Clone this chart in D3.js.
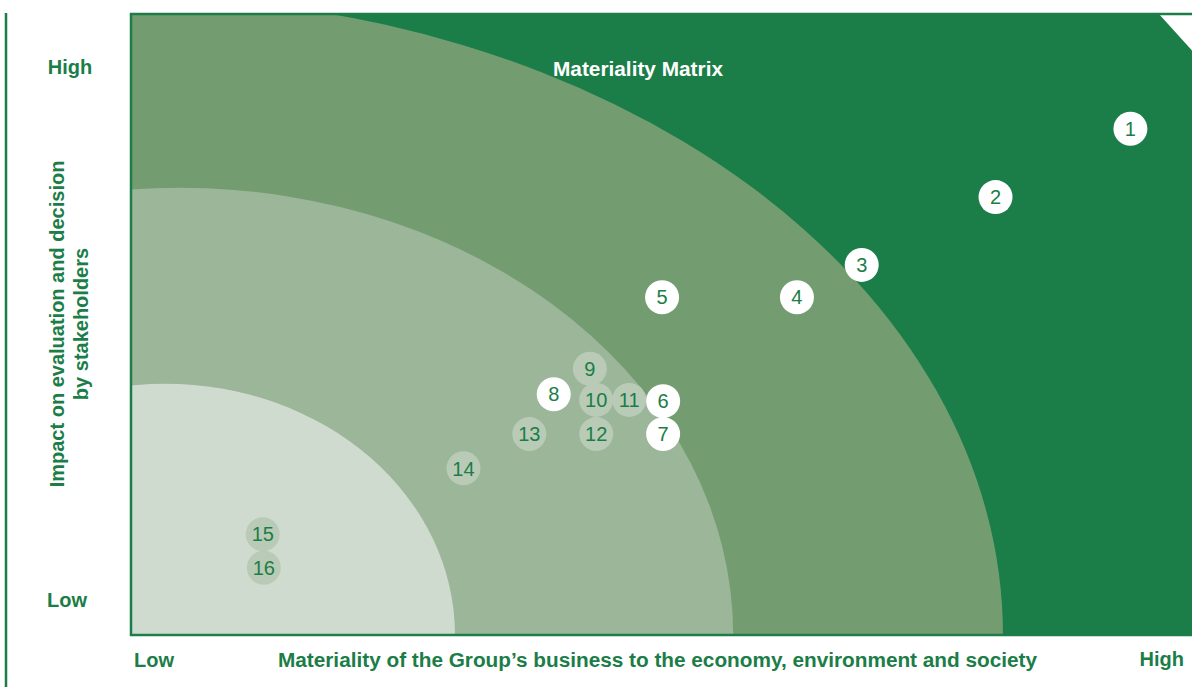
<!DOCTYPE html>
<html>
<head>
<meta charset="utf-8">
<script src="https://cdn.jsdelivr.net/npm/d3@7"></script>
<style>
  html, body { margin: 0; padding: 0; background: #ffffff; }
  svg { display: block; font-family: "Liberation Sans", Arial, sans-serif; }
</style>
</head>
<body>
<svg id="chart"></svg>
<script>
// ── data ──────────────────────────────────────────────────────────────────
const topicIds = [1, 2, 3, 4, 5, 6, 7, 8, 9, 10, 11, 12, 13, 14, 15, 16];
const materiality = [94.2, 81.5, 68.9, 62.8, 50.1, 50.2, 50.2, 39.9, 43.3, 43.9, 47.0, 43.9, 37.6, 31.4, 12.5, 12.6];
const stakeholderImpact = [81.4, 70.4, 59.5, 54.3, 54.3, 37.6, 32.3, 38.7, 42.8, 37.8, 37.8, 32.3, 32.3, 26.8, 16.2, 10.8];
const highPriority = [true, true, true, true, true, true, true, true, false, false, false, false, false, false, false, false];

// zone boundaries (quarter ellipses from the low/low corner), in axis units
const zoneNames = ["medium-high", "medium", "low"];
const zoneCenterX = [0, 4.7, 3.3];
const zoneRadiusX = [82.2, 52.1, 27.3];
const zoneRadiusY = [102.6, 71.9, 40.4];

const xTickLabels = ["Low", "High"];
const yTickLabels = ["Low", "High"];
const chartTitle = "Materiality Matrix";
const xTitle = "Materiality of the Group\u2019s business to the economy, environment and society";
const yTitle = ["Impact on evaluation and decision", "by stakeholders"];

// ── layout ────────────────────────────────────────────────────────────────
const outerW = 1192, outerH = 687;
const margin = { top: 13, right: 0, bottom: 52, left: 130 };
const GREEN = "#1b7d47";
const ZONE_COLORS = ["#739c71", "#9bb698", "#d0dbcf"];
const SOFT_DOT = "#b9cbb6";

const svg = d3.select("#chart").attr("width", outerW).attr("height", outerH);

const x = d3.scaleLinear().domain([0, 100]).range([margin.left, outerW - margin.right]);
const y = d3.scaleLinear().domain([0, 100]).range([outerH - margin.bottom, margin.top]);

const x0 = x(0), x1 = x(100) + 4, y0 = y(0), y1 = y(100);

svg.append("defs").append("clipPath").attr("id", "plotClip")
  .append("rect").attr("x", x0).attr("y", y1).attr("width", x1 - x0).attr("height", y0 - y1);

// dark green field with the clipped top-right corner
const cut = 36;
svg.append("path")
  .attr("d", `M${x0},${y1}H${x(100) - cut + 2}L${x1},${y1 + cut + 6}V${y0}H${x0}Z`)
  .attr("fill", GREEN);

const zones = svg.append("g").attr("clip-path", "url(#plotClip)");
zones.selectAll("ellipse.zone").data(zoneNames).join("ellipse")
  .attr("class", "zone")
  .attr("cx", (d, i) => x(zoneCenterX[i]))
  .attr("cy", y0)
  .attr("rx", (d, i) => x(zoneRadiusX[i]) - x(0))
  .attr("ry", (d, i) => y(0) - y(zoneRadiusY[i]))
  .attr("fill", (d, i) => ZONE_COLORS[i]);

// frame lines
const frame = svg.append("g").attr("stroke", GREEN).attr("stroke-width", 2.5).attr("fill", "none");
frame.append("line").attr("x1", x0 + 1).attr("x2", x0 + 1).attr("y1", y1).attr("y2", y0 + 1);
frame.append("line").attr("x1", x0).attr("x2", x1).attr("y1", y1 + 1).attr("y2", y1 + 1);
frame.append("line").attr("x1", x0).attr("x2", x1).attr("y1", y0).attr("y2", y0);

// rule down the left side of the page
svg.append("line").attr("x1", 6).attr("x2", 6).attr("y1", y1).attr("y2", outerH)
  .attr("stroke", GREEN).attr("stroke-width", 2.5);

// title
svg.append("text").attr("x", 638).attr("y", 76).attr("text-anchor", "middle")
  .attr("font-size", 20).attr("font-weight", "bold").attr("fill", "#ffffff")
  .attr("textLength", 170).attr("lengthAdjust", "spacingAndGlyphs").text(chartTitle);

// points
const points = topicIds.map((id, i) => ({ id, mx: materiality[i], sy: stakeholderImpact[i], high: highPriority[i] }));
const dots = svg.append("g").selectAll("g.topic").data(points).join("g")
  .attr("class", "topic")
  .attr("transform", d => `translate(${x(d.mx)},${y(d.sy)})`);
dots.append("circle").attr("r", 17).attr("fill", d => d.high ? "#ffffff" : SOFT_DOT);
dots.append("text").attr("text-anchor", "middle").attr("dy", "0.36em")
  .attr("font-size", 20).attr("fill", GREEN).text(d => d.id);

// axis labels
const lab = svg.append("g").attr("fill", GREEN).attr("font-weight", "bold").attr("font-size", 20);
lab.append("text").attr("x", 70).attr("y", 74).attr("text-anchor", "middle").text(yTickLabels[1]);
lab.append("text").attr("x", 67).attr("y", 607).attr("text-anchor", "middle").text(yTickLabels[0]);
lab.append("text").attr("x", 134).attr("y", 667).attr("text-anchor", "start").text(xTickLabels[0]);
lab.append("text").attr("x", 1184).attr("y", 666).attr("text-anchor", "end").text(xTickLabels[1]);

lab.append("text").attr("x", 278).attr("y", 667).attr("text-anchor", "start")
  .attr("font-size", 20).attr("textLength", 759).attr("lengthAdjust", "spacingAndGlyphs").text(xTitle);

const yt = lab.append("text").attr("transform", "translate(0,324) rotate(-90)")
  .attr("text-anchor", "middle").attr("font-size", 20);
yt.append("tspan").attr("x", 0).attr("y", 64).text(yTitle[0]);
yt.append("tspan").attr("x", 0).attr("y", 88).text(yTitle[1]);
</script>
</body>
</html>
